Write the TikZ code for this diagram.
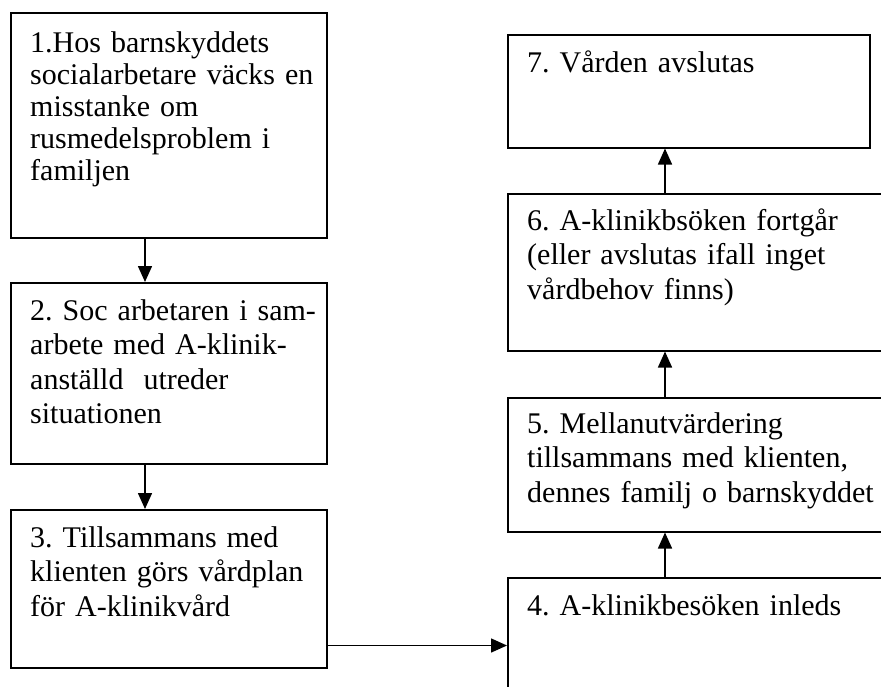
\documentclass[tikz,border=0pt]{standalone}
\usepackage{fontspec}
\setmainfont{Liberation Serif}
\usetikzlibrary{arrows.meta, positioning}

\begin{document}
\begin{tikzpicture}[
    x = 1pt, y = -1pt,
    box/.style = {draw, line width=1.5pt, anchor=north west, inner sep=0pt},
    txt/.style = {anchor=north west, inner sep=0pt, text width=400pt,
        text height=0pt, align=left,
        font=\fontsize{30}{34.5}\selectfont\frenchspacing},
    arr/.style = {line width=1.5pt, -{Triangle[width=14pt,length=16pt]}}
    ]
    \useasboundingbox (0,0) rectangle (881,686);
    %
    % left column
    \node (b1) [box, minimum width=316pt, minimum height=225pt] at (10,12) {};
    \node (b2) [box, minimum width=316pt, minimum height=181pt] at (10,282) {};
    \node (b3) [box, minimum width=316pt, minimum height=158pt] at (10,509) {};
    % right column
    \node (b4) [box, minimum width=383pt, minimum height=123pt] at (507,577) {};
    \node (b5) [box, minimum width=383pt, minimum height=134pt] at (507,397) {};
    \node (b6) [box, minimum width=383pt, minimum height=157pt] at (507,193) {};
    \node (b7) [box, minimum width=362pt, minimum height=113pt] at (507,34) {};
    %
    \node (t1) [txt, font=\fontsize{30}{32}\selectfont\frenchspacing]
        at ([shift={(20pt,-40pt)}]b1.north west)
        {1.Hos barnskyddets\\ socialarbetare väcks en\\ misstanke om\\
         rusmedelsproblem i\\ familjen};
    \node (t2) [txt] at ([shift={(20pt,-38pt)}]b2.north west)
        {2. Soc arbetaren i sam-\\ arbete med A-klinik-\\
         anställd\ \ utreder\\ situationen};
    \node (t3) [txt] at ([shift={(20pt,-38pt)}]b3.north west)
        {3. Tillsammans med\\ klienten görs vårdplan\\ för A-klinikvård};
    \node (t4) [txt] at ([shift={(20pt,-38pt)}]b4.north west)
        {4. A-klinikbesöken inleds};
    \node (t5) [txt] at ([shift={(20pt,-36pt)}]b5.north west)
        {5. Mellanutvärdering\\ tillsammans med klienten,\\
         dennes familj o barnskyddet};
    \node (t6) [txt] at ([shift={(20pt,-37pt)}]b6.north west)
        {6. A-klinikbsöken fortgår\\ (eller avslutas ifall inget\\
         vårdbehov finns)};
    \node (t7) [txt] at ([shift={(20pt,-38pt)}]b7.north west)
        {7. Vården avslutas};
    %
    \draw[arr] ([xshift=135pt]b1.south west) -- ([xshift=135pt]b2.north west);
    \draw[arr] ([xshift=135pt]b2.south west) -- ([xshift=135pt]b3.north west);
    \draw[arr] ([yshift=23pt]b3.south east) -- ([yshift=23pt]b3.south east -| b4.west);
    \draw[arr] ([xshift=158pt]b4.north west) -- ([xshift=158pt]b5.south west);
    \draw[arr] ([xshift=158pt]b5.north west) -- ([xshift=158pt]b6.south west);
    \draw[arr] ([xshift=158pt]b6.north west) -- ([xshift=158pt]b7.south west);
\end{tikzpicture}
\end{document}
